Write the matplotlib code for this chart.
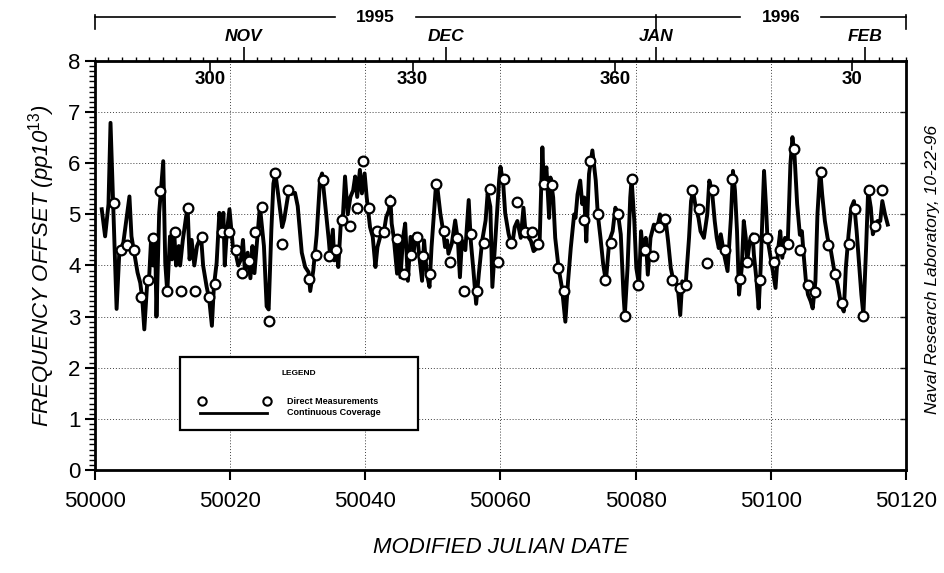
import numpy as np
import matplotlib.pyplot as plt
from matplotlib.ticker import MultipleLocator
from matplotlib.transforms import blended_transform_factory
from matplotlib.patches import Rectangle

plt.rcParams['font.family'] = ['Liberation Sans', 'DejaVu Sans']
plt.rcParams['mathtext.fontset'] = 'custom'
plt.rcParams['mathtext.it'] = 'Liberation Sans:italic'
plt.rcParams['mathtext.rm'] = 'Liberation Sans'

# Continuous coverage (MJD, frequency offset in pp10^13)
line_mjd = [
    50001.0, 50001.5, 50002.0, 50002.3, 50002.7, 50003.2, 50003.6, 50004.2, 50005.1, 50005.4,
    50005.8, 50006.3, 50006.7, 50007.0, 50007.3, 50007.7, 50008.0, 50008.3, 50008.6, 50008.9,
    50009.1, 50009.5, 50010.1, 50010.4, 50010.7, 50011.1, 50011.4, 50011.7, 50012.0, 50012.4,
    50012.6, 50013.0, 50013.7, 50014.0, 50014.3, 50014.7, 50015.1, 50015.7, 50016.0, 50016.5,
    50016.9, 50017.3, 50017.6, 50018.0, 50018.4, 50018.8, 50019.0, 50019.2, 50019.5, 50019.9,
    50020.4, 50020.8, 50021.2, 50021.6, 50021.9, 50022.2, 50022.6, 50023.0, 50023.3, 50023.6,
    50024.4, 50025.0, 50025.4, 50025.7, 50026.1, 50026.4, 50026.7, 50027.2, 50027.7, 50028.0,
    50028.6, 50029.1, 50029.6, 50030.0, 50030.6, 50031.1, 50031.6, 50031.85, 50032.3, 50032.8,
    50033.3, 50033.6, 50034.1, 50034.6, 50034.8, 50035.2, 50035.4, 50035.7, 50036.0, 50036.4,
    50036.7, 50037.0, 50037.4, 50037.8, 50038.2, 50038.5, 50038.8, 50039.2, 50039.5, 50039.9,
    50040.2, 50040.7, 50041.1, 50041.5, 50041.8, 50042.2, 50042.7, 50043.1, 50043.5, 50043.7,
    50043.9, 50044.2, 50044.7, 50044.9, 50045.2, 50045.6, 50045.9, 50046.3, 50046.7, 50047.2,
    50047.4, 50047.7, 50048.0, 50048.4, 50048.7, 50049.1, 50049.5, 50049.8, 50050.4, 50050.6,
    50051.1, 50051.5, 50051.8, 50052.1, 50052.3, 50052.8, 50053.3, 50053.7, 50054.0, 50054.3,
    50054.8, 50055.3, 50055.6, 50056.0, 50056.4, 50056.8, 50057.3, 50057.8, 50058.1, 50058.5,
    50058.8, 50059.3, 50059.8, 50060.0, 50060.4, 50060.7, 50061.2, 50061.7, 50062.1, 50062.5,
    50063.0, 50063.4, 50063.7, 50064.2, 50064.5, 50064.9, 50065.4, 50065.8, 50066.2, 50066.4,
    50066.8, 50067.2, 50067.4, 50067.8, 50068.1, 50068.6, 50069.1, 50069.6, 50070.0, 50070.4,
    50070.9, 50071.1, 50071.4, 50071.8, 50072.1, 50072.4, 50072.7, 50073.1, 50073.6, 50074.1,
    50074.4, 50074.8, 50075.2, 50075.6, 50076.1, 50076.6, 50077.0, 50077.4, 50077.8, 50078.2,
    50078.4, 50078.8, 50079.2, 50079.4, 50079.8, 50080.1, 50080.5, 50080.8, 50081.1, 50081.5,
    50081.8, 50082.2, 50082.7, 50083.2, 50083.6, 50083.9, 50084.4, 50084.8, 50085.2, 50085.6,
    50086.2, 50086.6, 50086.9, 50087.4, 50087.9, 50088.2, 50088.5, 50088.9, 50089.3, 50089.6,
    50090.1, 50090.6, 50090.9, 50091.3, 50091.7, 50092.0, 50092.3, 50092.6, 50093.1, 50093.6,
    50094.1, 50094.4, 50094.7, 50095.0, 50095.3, 50095.7, 50096.0, 50096.3, 50096.5, 50096.9,
    50097.3, 50097.5, 50097.9, 50098.2, 50098.5, 50098.8, 50099.0, 50099.3, 50099.5, 50099.9,
    50100.2, 50100.7, 50101.1, 50101.4, 50101.7, 50102.1, 50102.5, 50102.9, 50103.2, 50103.5,
    50103.9, 50104.3, 50104.6, 50104.9, 50105.2, 50105.5, 50105.9, 50106.2, 50106.6, 50106.9,
    50107.3, 50107.6, 50108.0, 50108.4, 50108.9, 50109.4, 50109.9, 50110.4, 50110.8, 50111.1,
    50111.5, 50111.9, 50112.3, 50112.7, 50113.1, 50113.4, 50113.7, 50114.1, 50114.4, 50114.8,
    50115.1, 50115.4, 50115.8, 50116.2, 50116.5, 50116.9, 50117.3,
]
line_val = [
    5.10, 4.57, 5.20, 6.79, 5.20, 3.15, 4.25, 4.45, 5.35, 4.57,
    4.25, 3.86, 3.66, 3.34, 2.75, 3.60, 3.73, 4.50, 4.00, 4.50,
    3.00, 5.03, 6.04, 4.05, 3.47, 4.57, 4.12, 4.70, 4.00, 4.38,
    4.00, 4.50, 5.16, 4.12, 4.50, 4.00, 4.38, 4.57, 4.00, 3.60,
    3.34, 2.82, 3.60, 4.05, 5.03, 4.64, 5.03, 4.00, 4.64, 5.10,
    4.38, 4.25, 4.00, 4.12, 4.50, 3.85, 4.25, 3.75, 4.38, 3.85,
    5.16, 4.38, 3.20, 3.14, 4.70, 5.60, 5.80, 5.29, 4.75, 4.90,
    5.40, 5.40, 5.42, 5.16, 4.25, 3.97, 3.87, 3.50, 3.90, 4.60,
    5.67, 5.80, 5.15, 4.49, 4.17, 4.70, 4.10, 4.36, 3.97, 4.88,
    5.00, 5.74, 5.00, 5.34, 5.47, 5.74, 5.34, 5.87, 5.41, 5.80,
    5.34, 4.75, 4.56, 3.97, 4.36, 4.56, 4.62, 4.95, 5.08, 5.35,
    4.82, 4.56, 3.84, 4.56, 3.77, 4.56, 4.82, 3.70, 4.56, 4.30,
    4.62, 4.56, 4.17, 3.70, 4.49, 3.84, 3.58, 4.36, 5.47, 5.60,
    5.02, 4.69, 4.36, 4.49, 4.23, 4.43, 4.88, 4.49, 3.77, 4.49,
    4.30, 5.28, 4.49, 3.90, 3.25, 3.84, 4.49, 4.88, 5.41, 5.15,
    3.58, 4.62, 5.67, 5.93, 5.61, 5.02, 4.62, 4.36, 4.75, 4.87,
    4.54, 5.13, 4.67, 4.54, 4.48, 4.28, 4.34, 4.48, 6.31, 5.66,
    5.92, 4.93, 5.72, 5.33, 4.54, 3.95, 3.56, 2.90, 3.69, 4.34,
    5.00, 4.93, 5.39, 5.66, 5.20, 5.33, 4.47, 5.79, 6.25, 5.66,
    5.00, 4.54, 4.02, 3.69, 4.48, 4.67, 5.13, 5.00, 4.61, 3.43,
    3.03, 3.95, 5.33, 5.69, 4.87, 3.95, 3.62, 4.67, 4.21, 4.54,
    3.82, 4.54, 4.80, 4.74, 5.00, 4.80, 4.93, 4.48, 3.95, 3.69,
    3.62, 3.03, 3.69, 3.62, 4.54, 5.26, 5.46, 5.13, 4.93, 4.67,
    4.54, 5.00, 5.66, 5.46, 4.87, 4.54, 4.34, 4.61, 4.21, 3.89,
    4.93, 5.85, 5.46, 4.67, 3.43, 3.95, 4.87, 4.54, 4.08, 4.48,
    4.61, 4.21, 3.69, 3.16, 3.95, 5.13, 5.85, 5.13, 4.54, 4.21,
    3.95, 3.56, 4.34, 4.67, 4.15, 4.54, 4.41, 5.98, 6.51, 6.18,
    5.20, 4.60, 4.67, 4.15, 3.69, 3.43, 3.30, 3.16, 3.69, 5.00,
    5.89, 5.39, 4.87, 4.54, 4.28, 3.89, 3.62, 3.23, 3.10, 3.95,
    4.60, 5.13, 5.26, 4.67, 3.95, 3.43, 3.03, 4.34, 5.46, 5.13,
    4.61, 4.74, 4.87, 4.87, 5.26, 5.00, 4.80,
]

# Direct measurements
meas_mjd = [
    50002.8, 50003.8, 50004.8, 50005.8, 50006.8, 50007.8, 50008.6, 50009.6, 50010.7, 50011.8,
    50012.8, 50013.7, 50014.8, 50015.8, 50016.8, 50017.8, 50018.8, 50019.8, 50020.8, 50021.8,
    50022.8, 50023.7, 50024.7, 50025.8, 50026.7, 50027.7, 50028.6, 50031.7, 50032.7, 50033.7,
    50034.7, 50035.7, 50036.6, 50037.7, 50038.7, 50039.6, 50040.6, 50041.7, 50042.7, 50043.6,
    50044.7, 50045.7, 50046.7, 50047.6, 50048.6, 50049.6, 50050.5, 50051.6, 50052.6, 50053.6,
    50054.6, 50055.6, 50056.5, 50057.5, 50058.5, 50059.6, 50060.5, 50061.5, 50062.5, 50063.6,
    50064.6, 50065.5, 50066.4, 50067.6, 50068.5, 50069.4, 50072.3, 50073.3, 50074.4, 50075.5,
    50076.4, 50077.4, 50078.4, 50079.4, 50080.4, 50081.4, 50082.5, 50083.5, 50084.4, 50085.4,
    50086.5, 50087.5, 50088.4, 50089.4, 50090.5, 50091.5, 50093.2, 50094.3, 50095.4, 50096.5,
    50097.5, 50098.4, 50099.5, 50100.5, 50101.4, 50102.5, 50103.4, 50104.3, 50105.5, 50106.6,
    50107.4, 50108.4, 50109.5, 50110.5, 50111.5, 50112.4, 50113.6, 50114.6, 50115.4, 50116.5,
]
meas_val = [
    5.22, 4.30, 4.41, 4.30, 3.38, 3.72, 4.54, 5.46, 3.50, 4.65,
    3.50, 5.13, 3.50, 4.55, 3.38, 3.63, 4.65, 4.65, 4.31, 3.85,
    4.08, 4.65, 5.14, 2.92, 5.81, 4.42, 5.48, 3.73, 4.20, 5.68,
    4.19, 4.31, 4.89, 4.77, 5.13, 6.05, 5.12, 4.68, 4.65, 5.26,
    4.52, 3.84, 4.20, 4.55, 4.19, 3.84, 5.59, 4.67, 4.07, 4.54,
    3.50, 4.61, 3.50, 4.43, 5.49, 4.07, 5.70, 4.43, 5.25, 4.65,
    4.65, 4.42, 5.59, 5.58, 3.96, 3.50, 4.89, 6.05, 5.00, 3.71,
    4.43, 5.01, 3.02, 5.70, 3.62, 4.30, 4.19, 4.76, 4.90, 3.71,
    3.56, 3.61, 5.47, 5.11, 4.05, 5.47, 4.30, 5.70, 3.73, 4.06,
    4.54, 3.72, 4.54, 4.06, 4.30, 4.42, 6.28, 4.30, 3.61, 3.49,
    5.82, 4.41, 3.84, 3.26, 4.42, 5.11, 3.02, 5.47, 4.77, 5.47,
]

x_ticks = [50000, 50020, 50040, 50060, 50080, 50100, 50120]
y_ticks = [0, 1, 2, 3, 4, 5, 6, 7, 8]
doy_mjd = [50017, 50047, 50077, 50112]
doy_labels = ['300', '330', '360', '30']
month_mjd = [50022, 50052, 50083, 50114]
month_labels = ['NOV', 'DEC', 'JAN', 'FEB']
year_labels = ['1995', '1996']
year_start_mjd = [50000, 50083]
year_end_mjd = [50083, 50120]

fig = plt.figure(figsize=(9.45, 5.73), dpi=100)
ax = fig.add_axes([0.1005, 0.1798, 0.8582, 0.7138])

ax.plot(line_mjd, line_val, color='black', lw=2.8, zorder=3)
ax.plot(meas_mjd, meas_val, 'o', mfc='white', mec='black', ms=7, mew=1.6, zorder=4)

ax.set_xlim(50000, 50120)
ax.set_ylim(0, 8)
ax.set_xticks(x_ticks)
ax.set_yticks(y_ticks)
ax.yaxis.set_minor_locator(MultipleLocator(0.1))
ax.grid(True, linestyle=(0, (1, 2)), color='0.25', lw=0.7)
for s in ax.spines.values():
    s.set_linewidth(2)

ax.tick_params(axis='both', which='major', direction='out', length=7, width=1.5, labelsize=16)
ax.tick_params(axis='y', which='minor', direction='out', length=4, width=1)
ax.tick_params(axis='x', pad=8)

# right side: small inward ticks
axr = ax.secondary_yaxis('right')
axr.set_yticks(y_ticks)
axr.tick_params(direction='in', length=4, width=1, labelright=False)

# top: months and small day ticks
axt = ax.secondary_xaxis('top')
axt.set_xticks(month_mjd)
axt.set_xticklabels(month_labels, fontsize=12.5, fontweight='bold', style='italic')
axt.xaxis.set_minor_locator(MultipleLocator(2))
axt.tick_params(which='major', direction='out', length=10, width=1.2, pad=2)
axt.tick_params(which='minor', direction='out', length=3, width=1)

axd = ax.secondary_xaxis('top')
axd.set_xticks(doy_mjd)
axd.tick_params(direction='in', length=7, width=1.2, labeltop=False)
for m, lbl in zip(doy_mjd, doy_labels):
    ax.text(m, 0.955, lbl, transform=ax.get_xaxis_transform(), ha='center', va='center',
            fontsize=13.5, fontweight='bold')

# year bracket above the plot
tr = blended_transform_factory(ax.transData, fig.transFigure)
yb, yt = 0.970, 0.950
for lbl, a, b in zip(year_labels, year_start_mjd, year_end_mjd):
    c = (a + b) / 2
    fig.text(0, yb, lbl, transform=tr, ha='center', va='center', fontsize=12.5,
             fontweight='bold').set_x(c)
    ax.plot([a, c - 6], [yb, yb], transform=tr, color='black', lw=1.2, clip_on=False)
    ax.plot([c + 6, b], [yb, yb], transform=tr, color='black', lw=1.2, clip_on=False)
for m in [year_start_mjd[0], year_start_mjd[1], year_end_mjd[1]]:
    ax.plot([m, m], [yb + 0.004, yt], transform=tr, color='black', lw=1.2, clip_on=False)

ax.set_xlabel('MODIFIED JULIAN DATE', fontsize=16, style='italic', labelpad=18)
ax.set_ylabel('FREQUENCY OFFSET (pp10$^{13}$)', fontsize=16, style='italic', labelpad=8)

fig.text(0.987, 0.53, 'Naval Research Laboratory, 10-22-96', rotation=90, style='italic',
         fontsize=12.5, ha='center', va='center')

# legend box
ax.add_patch(Rectangle((0.105, 0.098), 0.293, 0.178, transform=ax.transAxes,
                       facecolor='white', edgecolor='black', lw=1.6, zorder=5))
ax.text(0.2515, 0.235, 'LEGEND', transform=ax.transAxes, ha='center', va='center',
        fontsize=6, fontweight='bold', zorder=6)
ax.plot([0.132, 0.212], [0.168, 0.168], 'o', transform=ax.transAxes, mfc='white',
        mec='black', ms=6, mew=1.5, zorder=6)
ax.plot([0.130, 0.212], [0.14, 0.14], '-', transform=ax.transAxes, color='black',
        lw=2, zorder=6)
ax.text(0.237, 0.168, 'Direct Measurements', transform=ax.transAxes, va='center',
        fontsize=6.5, fontweight='bold', zorder=6)
ax.text(0.237, 0.14, 'Continuous Coverage', transform=ax.transAxes, va='center',
        fontsize=6.5, fontweight='bold', zorder=6)

fig.savefig('out.png', dpi=100)
